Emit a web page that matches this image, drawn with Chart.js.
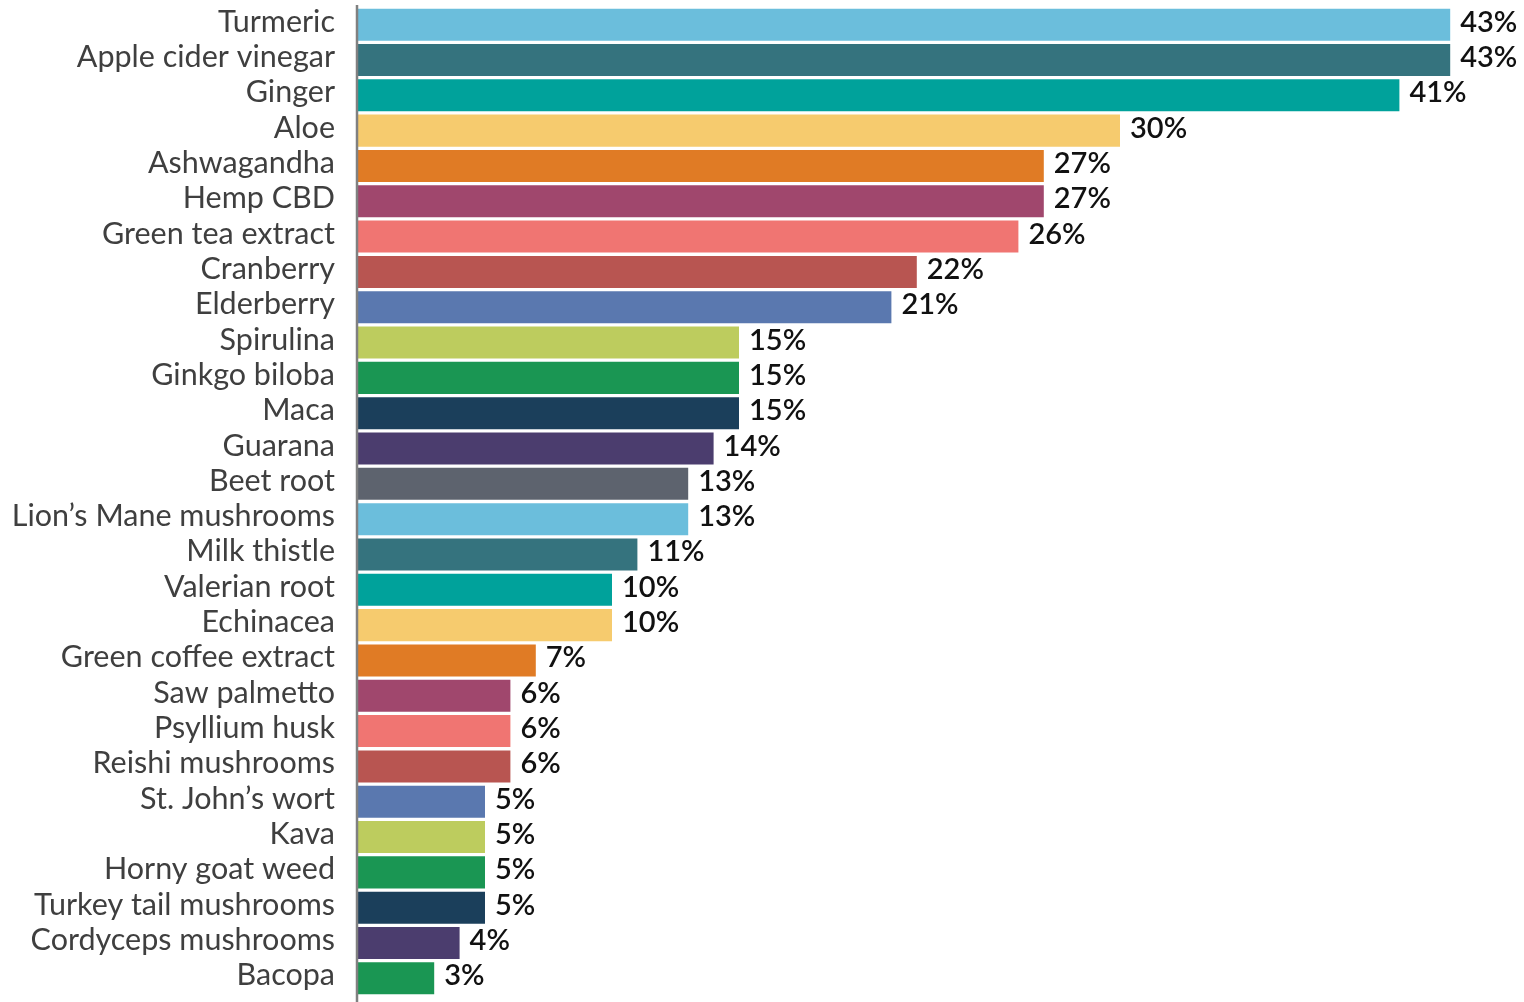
<!DOCTYPE html>
<html>
<head>
<meta charset="utf-8">
<script src="https://cdn.jsdelivr.net/npm/chart.js@4.4.0/dist/chart.umd.min.js"></script>
<style>
  html, body { margin: 0; padding: 0; background: #ffffff; }
  #wrap { width: 1524px; height: 1002px; position: relative; }
</style>
</head>
<body>
<div id="wrap"><canvas id="supplementChart"></canvas></div>
<script>
// Herbal supplements used (% of respondents)
const categories = [
    'Turmeric', 'Apple cider vinegar', 'Ginger', 'Aloe', 'Ashwagandha', 'Hemp CBD',
    'Green tea extract', 'Cranberry', 'Elderberry', 'Spirulina', 'Ginkgo biloba', 'Maca',
    'Guarana', 'Beet root', 'Lion\u2019s Mane mushrooms', 'Milk thistle', 'Valerian root',
    'Echinacea', 'Green coffee extract', 'Saw palmetto', 'Psyllium husk', 'Reishi mushrooms',
    'St. John\u2019s wort', 'Kava', 'Horny goat weed', 'Turkey tail mushrooms',
    'Cordyceps mushrooms', 'Bacopa'
];
const shares = [43, 43, 41, 30, 27, 27, 26, 22, 21, 15, 15, 15, 14, 13, 13, 11, 10, 10, 7, 6, 6, 6, 5, 5, 5, 5, 4, 3];
const barColors = [
    '#6bbedc', '#35737e', '#00a29b', '#f6cb6e', '#e07b25', '#a0476d', '#f07572',
    '#b85551', '#5a78af', '#bdcc5e', '#1a9653', '#1b3f5b', '#4b3d6e', '#5d636e',
    '#6bbedc', '#35737e', '#00a29b', '#f6cb6e', '#e07b25', '#a0476d', '#f07572',
    '#b85551', '#5a78af', '#bdcc5e', '#1a9653', '#1b3f5b', '#4b3d6e', '#1a9653'
];

const FONT = 'Lato, "DejaVu Sans", sans-serif';

// category names left of the axis and values after each bar,
// sitting a little above the bar centre like the original
const barText = {
    id: 'barText',
    afterDatasetsDraw(chart) {
        const ctx = chart.ctx;
        const yScale = chart.scales.y;
        const meta = chart.getDatasetMeta(0);
        ctx.save();
        ctx.textBaseline = 'alphabetic';

        ctx.font = '400 30.5px ' + FONT;
        ctx.fillStyle = '#3f3f3f';
        ctx.textAlign = 'right';
        categories.forEach((name, i) => {
            ctx.fillText(name, yScale.right - 23, yScale.getPixelForTick(i) + 7);
        });

        ctx.font = '600 29px ' + FONT;
        ctx.fillStyle = '#111111';
        ctx.textAlign = 'left';
        meta.data.forEach((bar, i) => {
            ctx.fillText(shares[i] + '%', bar.x + 10, bar.y + 7);
        });
        ctx.restore();
    }
};

// vertical axis line running the full height
const axisLine = {
    id: 'axisLine',
    afterDatasetsDraw(chart) {
        const ctx = chart.ctx;
        const x = chart.chartArea.left - 1;
        ctx.save();
        ctx.strokeStyle = '#808080';
        ctx.lineWidth = 2.5;
        ctx.beginPath();
        ctx.moveTo(x, 5);
        ctx.lineTo(x, chart.height);
        ctx.stroke();
        ctx.restore();
    }
};

const ctx = document.getElementById('supplementChart').getContext('2d');
new Chart(ctx, {
    type: 'bar',
    data: {
        labels: categories,
        datasets: [{
            data: shares,
            backgroundColor: barColors,
            borderWidth: 0,
            categoryPercentage: 1,
            barPercentage: 0.906
        }]
    },
    options: {
        indexAxis: 'y',
        responsive: true,
        maintainAspectRatio: false,
        animation: false,
        layout: { padding: { top: 7, bottom: 6, left: 0, right: 23 } },
        plugins: {
            legend: { display: false },
            tooltip: { enabled: false }
        },
        scales: {
            x: {
                display: false,
                min: 0,
                max: 45
            },
            y: {
                grid: { display: false, drawTicks: false },
                border: { display: false },
                ticks: { display: false },
                afterFit: scale => {
                    scale.width = 358;
                    scale.paddingTop = 0;
                    scale.paddingBottom = 0;
                }
            }
        }
    },
    plugins: [barText, axisLine]
});
</script>
</body>
</html>
